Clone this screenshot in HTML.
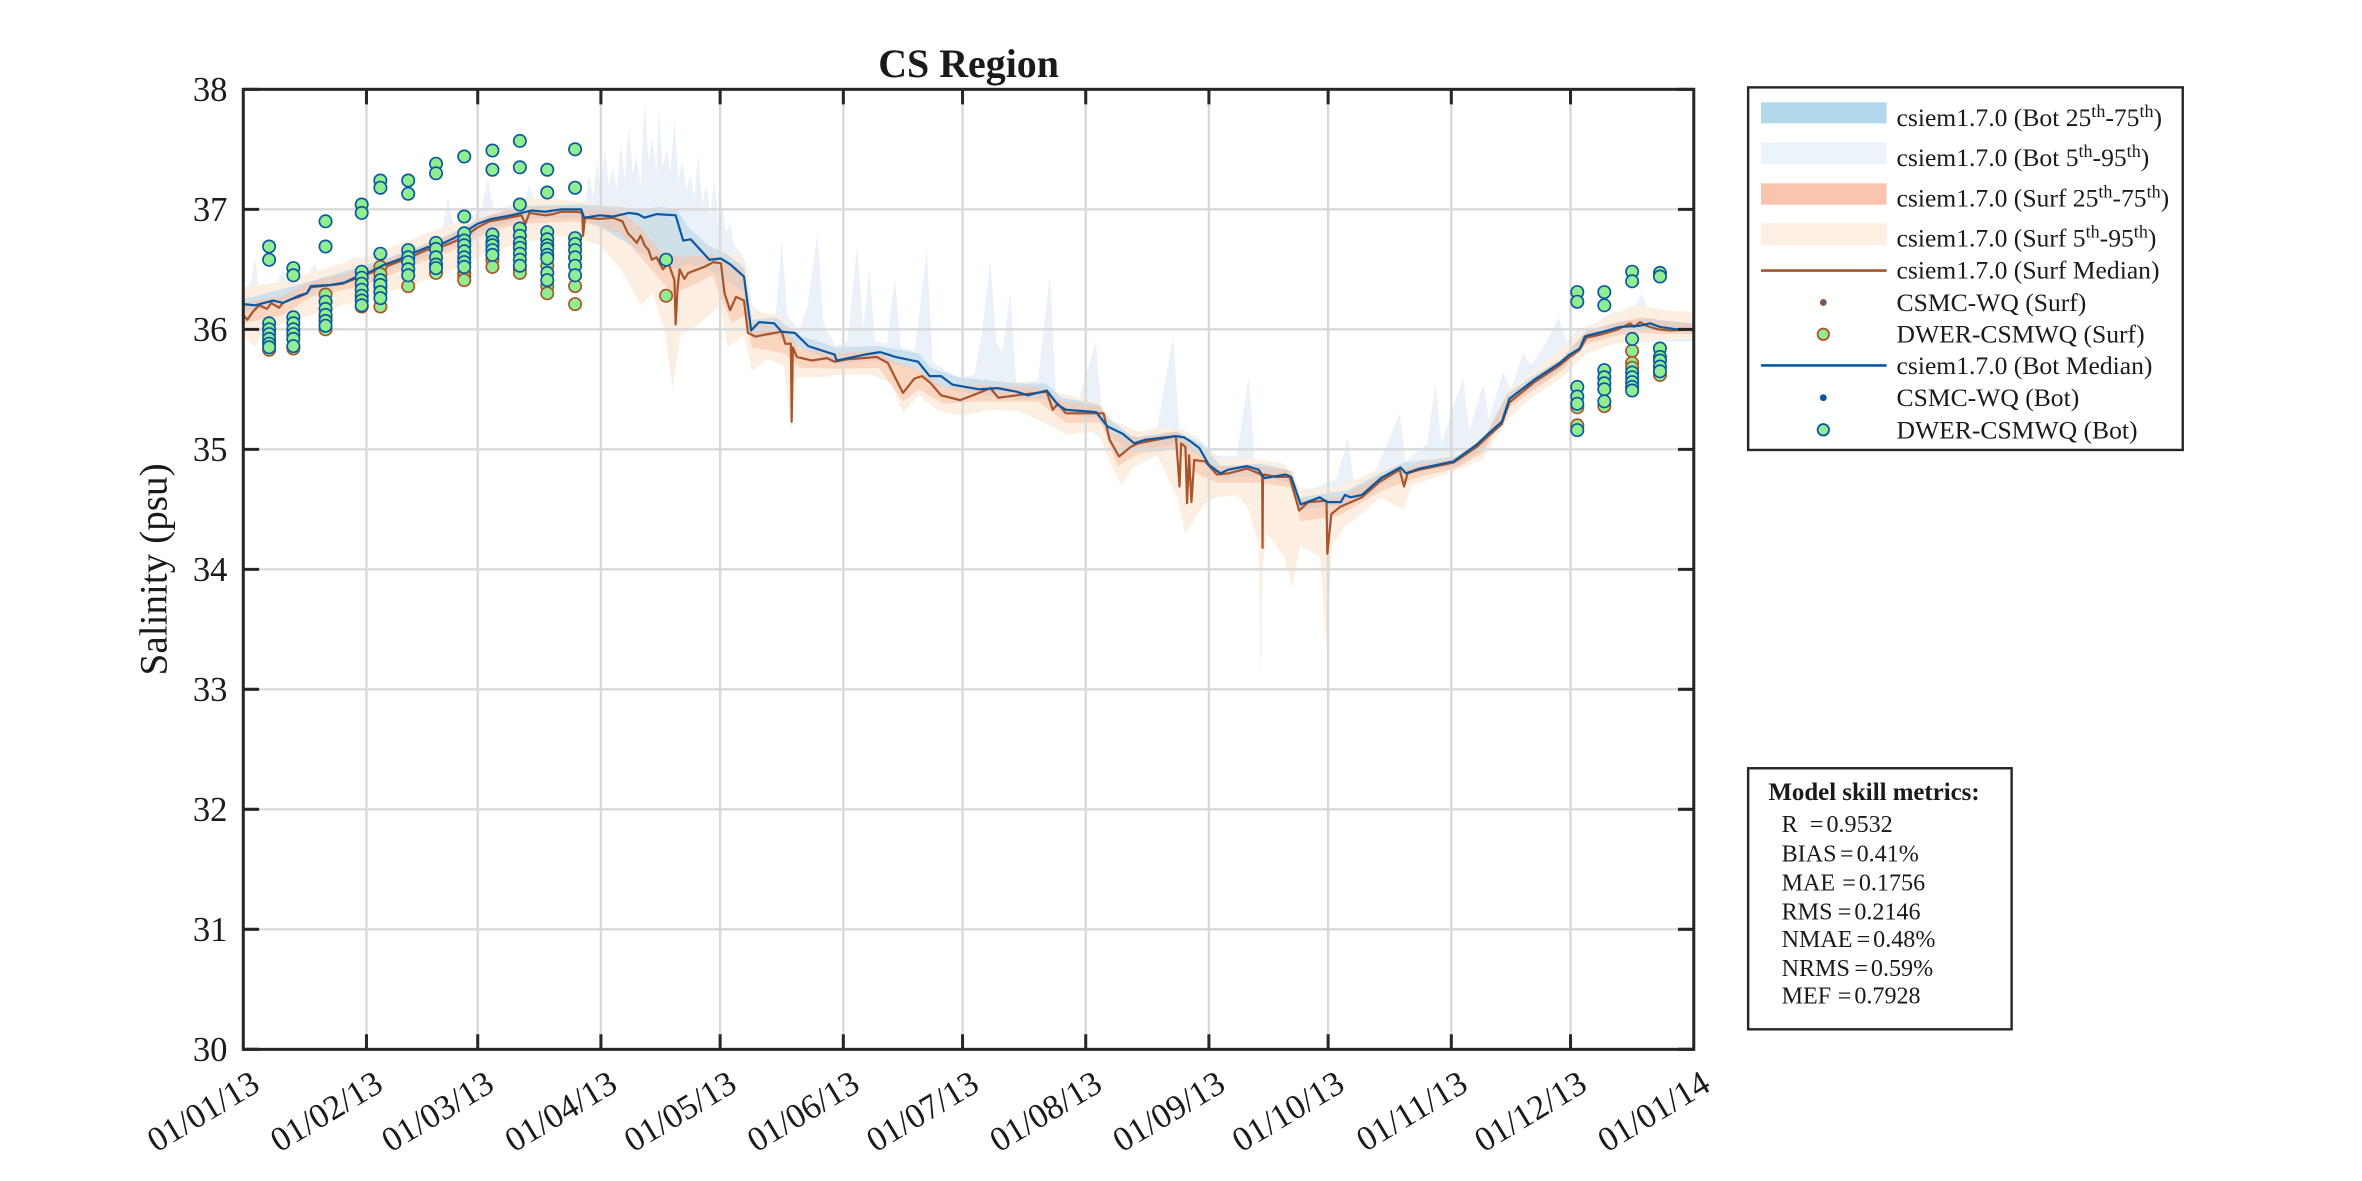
<!DOCTYPE html>
<html><head><meta charset="utf-8"><style>
html,body{margin:0;padding:0;background:#fff;}
body{width:2362px;height:1181px;overflow:hidden;}
svg{display:block;}
text{font-family:"Liberation Serif","Times New Roman",serif;fill:#1a1a1a;}
</style></head><body>
<svg width="2362" height="1181" viewBox="0 0 1568 784" xmlns="http://www.w3.org/2000/svg">
<defs>
<clipPath id="ax"><rect x="161.5" y="59.3" width="962.9" height="637.3"/></clipPath>
<ellipse id="mk" cx="0" cy="0" rx="1.55" ry="0.0515" fill="#90ee90" stroke-width="1.7" vector-effect="non-scaling-stroke"/>
</defs>
<rect x="0" y="0" width="1568" height="784" fill="#fff"/>

<g clip-path="url(#ax)">
<g transform="matrix(2.638 0 0 -79.66 161.5 3086.38)">
<!-- Bot 5-95 -->
<polygon fill="#eaf1f9" points="0,36.3 2,36.4 3,36.6 4,36.3 8,36.35 10,36.5 11,36.35 12,36.45 15,36.4 18,36.55 19,36.45 20,36.5 25,36.55 28,36.6 32,36.6 35,36.65 40,36.7 45,36.72 48,36.78 50,36.8 51.5,37.1 53,36.85 58,36.95 60,37.0 61.5,37.25 63,37.0 66,37.02 68,37.05 71,37.1 72,37.2 73.5,37.05 76,37.08 78,37.15 80,37.05 84,37.05 86,37.05 87,37.3 88,37.1 89,37.4 90,37.15 91,37.5 92,37.2 93,37.35 94,37.15 95,37.55 96,37.25 97,37.7 98,37.3 99,37.45 100,37.2 101,37.9 102,37.4 103,37.6 104,37.3 104.5,37.85 105.5,37.35 106.5,37.5 107.5,37.3 108.5,37.75 109.5,37.25 110.5,37.4 111.5,37.15 112.5,37.3 113.5,37.1 114.5,37.45 115.5,37.05 116.5,37.2 117.5,36.95 118.5,37.25 119.5,36.9 120.5,37.05 121.5,36.8 122.5,36.9 123.5,36.7 125,36.65 126.5,36.55 128,36.2 131,36.12 134,36.12 135.5,36.75 137,36.1 140,36.0 142,36.2 144.5,36.8 146,36.05 149,35.86 152,35.9 154.5,36.7 156,36.0 157.5,36.5 159,35.9 162,35.88 164,36.43 165.5,35.85 169,35.82 172,36.66 173.5,35.72 180,35.6 184,35.62 186,36.0 188,36.57 189.5,35.9 191,35.8 193,36.3 194.5,35.55 200,35.58 203,36.45 204.5,35.45 210,35.38 214.5,35.9 216,35.33 220,35.2 225,35.14 230,35.18 234,35.95 235.5,35.18 240,35.1 245,34.95 250,34.94 253,35.6 254.5,34.92 262,34.88 266,34.66 270,34.68 275,34.75 278,35.1 279.5,34.72 285,34.82 291,35.3 292.5,34.9 298,35.05 300,35.55 301.5,35.05 305,35.4 307,35.6 308.5,35.15 312,35.55 313.5,35.25 317,35.65 319,35.5 322,35.8 324,35.7 328,35.9 331,36.1 333,35.9 336,36 340,36.05 345,36.15 349,36.12 352,36.3 354,36.12 360,36.1 365,36.1 365,35.9 340,35.88 332,35.62 320,35.35 312,34.95 300,34.8 280,34.5 265,34.45 245,34.7 235,35 220,35 210,35.22 200,35.38 180,35.42 170,35.6 150,35.68 140,35.75 127,35.9 120,36.45 110,36.6 100,36.8 85,36.85 60,36.75 30,36.3 0,36.1"/>
<!-- Surf 5-95 -->
<polygon fill="#fcefe1" points="0,36.35 10,36.4 20,36.5 30,36.6 40,36.72 50,36.85 60,36.95 70,37.05 72,37.1 80,37.08 90,37.05 100,37 108,36.9 115,36.72 120,36.66 126,36.6 128,36.15 135,36.12 140,35.92 150,35.84 160,35.84 165,35.78 172,35.68 180,35.57 190,35.57 200,35.55 205,35.47 215,35.4 218,35.25 225,35.15 235,35.18 240,35.08 245,34.92 255,34.92 262,34.88 266,34.66 275,34.68 285,34.82 295,34.91 305,34.95 312,35.1 318,35.48 325,35.66 332,35.85 338,36.02 345,36.12 350,36.2 355,36.18 360,36.15 365,36.15 365,35.92 358,35.92 350,35.9 345,35.88 338,35.8 332,35.6 325,35.45 318,35.25 312,34.92 305,34.82 294,34.7 292,34.5 286,34.6 281,34.45 277,34.35 274,34.2 272.5,33.35 271,34.1 266,34.2 264,33.85 262,34.1 257.5,34.3 256.5,34 256,33.05 255.5,34.2 253,34.5 250,34.62 245,34.6 242,34.55 239,34.4 237,34.3 235,34.6 230,34.95 224,34.85 221,34.7 218,34.9 215,35.15 207,35.12 203,35.2 195,35.32 188,35.33 181,35.28 175,35.32 170,35.45 166,35.3 163,35.55 158,35.62 150,35.62 145,35.6 139,35.6 138,35.15 136,35.7 132,35.75 128,35.65 126,35.95 122,35.85 120,36.2 115,36.05 110,35.95 108,35.5 106,36 103,36.3 100,36.2 95,36.5 90,36.7 85,36.75 80,36.78 70,36.72 60,36.62 50,36.45 40,36.35 30,36.25 20,36.15 10,36.05 5,36 3,35.85 0,35.95"/>
<!-- Bot 25-75 -->
<polygon fill="#b7d7ec" fill-opacity="0.65" points="0,36.25 17,36.4 35,36.58 50,36.76 60,36.93 70,37.03 85,37.04 95,37.02 100,37 105,37.02 109,37 112,36.85 117,36.7 122,36.62 126,36.52 128,36.08 134,36.1 140,35.95 149,35.85 160,35.86 170,35.8 173,35.68 180,35.6 195,35.55 202,35.55 206,35.43 215,35.38 218,35.25 224,35.1 235,35.15 241,35.05 246,34.86 256,34.88 263,34.83 266,34.6 278,34.66 286,34.8 292,34.89 305,34.94 312,35.08 318,35.46 325,35.62 332,35.76 338,35.99 346,36.06 354,36.09 365,36.04 365,35.97 354,36 346,35.98 338,35.9 332,35.68 325,35.52 318,35.36 312,35 305,34.86 292,34.8 286,34.7 278,34.54 266,34.5 263,34.72 256,34.78 246,34.76 241,34.95 235,35.05 224,34.98 218,35.1 215,35.26 206,35.3 202,35.42 195,35.42 180,35.48 173,35.55 170,35.66 160,35.74 149,35.72 140,35.85 134,35.95 128,35.92 126,36.3 122,36.4 117,36.5 112,36.55 109,36.5 105,36.55 100,36.65 95,36.75 90,36.85 85,36.93 70,36.92 60,36.82 50,36.65 35,36.48 17,36.3 0,36.15"/>
<!-- Surf 25-75 -->
<polygon fill="#f9c3aa" fill-opacity="0.6" points="0,36.22 10,36.28 17,36.4 30,36.5 42,36.66 56,36.84 62,36.95 70,37.02 85,37.02 95,36.98 100,36.85 105,36.65 110,36.6 118,36.62 121,36.58 126,36.5 127.5,36.05 136,36.02 140,35.84 150,35.8 160,35.82 163,35.74 170,35.66 176,35.52 185,35.53 200,35.52 206,35.4 216,35.36 218,35.14 226,35.1 235,35.15 240,34.98 245,34.86 256,34.86 264,34.82 266,34.58 276,34.6 286,34.78 296,34.87 305,34.93 312,35.06 318,35.44 325,35.6 332,35.76 338,35.98 346,36.06 352,36.1 358,36.07 365,36.05 365,35.96 358,35.96 352,35.97 346,35.95 338,35.88 332,35.66 325,35.5 318,35.33 312,34.97 305,34.84 296,34.77 286,34.65 276,34.45 266,34.4 264,34.68 256,34.72 245,34.72 240,34.8 235,35 226,34.97 220,34.86 216,35.22 207,35.22 200,35.4 185,35.4 176,35.38 170,35.5 166,35.4 160,35.68 150,35.67 140,35.68 136,35.8 128,35.85 126,36.12 123,36.05 121,36.2 118,36.45 112,36.35 108,36.3 104,36.45 100,36.6 95,36.8 85,36.9 70,36.88 62,36.82 56,36.7 42,36.52 30,36.36 17,36.27 10,36.12 0,36.05"/>
</g>
</g>

<!-- gridlines -->
<g stroke="#d9d9d9" stroke-width="1.6">
<line x1="243.28" y1="59.3" x2="243.28" y2="696.6"/>
<line x1="317.14" y1="59.3" x2="317.14" y2="696.6"/>
<line x1="398.92" y1="59.3" x2="398.92" y2="696.6"/>
<line x1="478.06" y1="59.3" x2="478.06" y2="696.6"/>
<line x1="559.84" y1="59.3" x2="559.84" y2="696.6"/>
<line x1="638.98" y1="59.3" x2="638.98" y2="696.6"/>
<line x1="720.76" y1="59.3" x2="720.76" y2="696.6"/>
<line x1="802.53" y1="59.3" x2="802.53" y2="696.6"/>
<line x1="881.67" y1="59.3" x2="881.67" y2="696.6"/>
<line x1="963.45" y1="59.3" x2="963.45" y2="696.6"/>
<line x1="1042.59" y1="59.3" x2="1042.59" y2="696.6"/>
<line x1="161.5" y1="138.96" x2="1124.4" y2="138.96"/>
<line x1="161.5" y1="218.62" x2="1124.4" y2="218.62"/>
<line x1="161.5" y1="298.28" x2="1124.4" y2="298.28"/>
<line x1="161.5" y1="377.94" x2="1124.4" y2="377.94"/>
<line x1="161.5" y1="457.6" x2="1124.4" y2="457.6"/>
<line x1="161.5" y1="537.26" x2="1124.4" y2="537.26"/>
<line x1="161.5" y1="616.92" x2="1124.4" y2="616.92"/>
</g>

<g clip-path="url(#ax)">
<g transform="matrix(2.638 0 0 -79.66 161.5 3086.38)">
<!-- Surf median -->
<polyline fill="none" stroke="#a8552a" stroke-width="2.2" vector-effect="non-scaling-stroke" stroke-linejoin="round" points="0,36.12 1,36.08 2.5,36.15 4,36.2 6,36.17 7,36.22 9,36.18 10,36.22 12,36.25 14,36.27 16,36.3 17,36.35 25,36.38 28,36.42 32,36.47 35.6,36.52 42,36.6 46,36.66 50,36.69 53,36.73 56,36.78 59,36.85 62,36.9 67,36.93 70,36.95 71,36.88 72,36.97 76,36.95 78,36.96 80,36.98 84,36.98 85.3,36.97 85.5,36.78 86,36.93 89.7,36.92 93,36.93 95.4,36.9 96.8,36.8 98,36.76 99,36.72 100,36.78 101,36.7 102,36.66 102.8,36.58 104,36.6 105.6,36.5 107,36.55 108.5,36.41 108.8,36.04 109.3,36.35 109.8,36.5 111,36.42 112,36.47 113.6,36.49 116,36.52 118.3,36.56 120.2,36.55 121.1,36.3 122.5,36.16 124,36.27 126,36.24 127,35.97 128.9,35.94 132,35.96 135.5,35.98 136.4,35.88 137.8,35.88 138,35.23 138.3,35.85 139.3,35.77 143.1,35.74 146.9,35.76 148.8,35.73 152,35.75 156,35.76 159.4,35.77 162.2,35.72 164,35.6 166,35.47 168.9,35.59 170.8,35.61 173,35.55 175.6,35.45 180.4,35.41 185.1,35.47 188,35.51 190,35.43 194.6,35.45 199.4,35.47 202.2,35.48 203.7,35.33 205,35.38 207,35.3 212.7,35.3 216.5,35.3 218,35.08 220.4,34.94 223.3,35.02 225.2,35.05 230,35.08 234.7,35.11 235.6,34.69 236,35.05 237.1,35.02 237.5,34.55 238,34.95 238.6,34.56 239.3,34.91 242,34.9 245,34.79 248,34.8 252.6,34.84 255.5,34.8 256.4,34.78 256.5,34.18 256.6,34.78 257,34.79 260,34.77 263.3,34.77 265.7,34.49 268,34.56 271.9,34.57 272.6,34.57 272.8,34.13 273.8,34.46 276,34.52 281.5,34.6 286,34.73 291,34.83 292.1,34.69 293,34.8 296,34.83 304.6,34.89 310.4,35.02 313.3,35.11 316.7,35.21 318.6,35.39 324.9,35.56 331.3,35.7 333.8,35.77 336.3,35.83 338,35.93 342,35.96 346,36 349,36.05 350,36.02 351.5,36.06 353,36.03 356,36 359,35.99 365,36"/>
<!-- Surf obs -->
<g stroke="#a8552a">
<use href="#mk" x="6.5" y="35.83"/><use href="#mk" x="6.5" y="35.9"/><use href="#mk" x="6.5" y="36"/>
<use href="#mk" x="12.6" y="35.84"/>
<use href="#mk" x="20.7" y="36.29"/><use href="#mk" x="20.7" y="36"/><use href="#mk" x="20.7" y="36.1"/>
<use href="#mk" x="29.8" y="36.19"/>
<use href="#mk" x="34.5" y="36.52"/><use href="#mk" x="34.5" y="36.46"/><use href="#mk" x="34.5" y="36.19"/><use href="#mk" x="34.5" y="36.35"/>
<use href="#mk" x="41.5" y="36.36"/>
<use href="#mk" x="48.5" y="36.47"/>
<use href="#mk" x="55.6" y="36.47"/><use href="#mk" x="55.6" y="36.44"/><use href="#mk" x="55.6" y="36.41"/>
<use href="#mk" x="62.7" y="36.58"/><use href="#mk" x="62.7" y="36.52"/>
<use href="#mk" x="69.6" y="36.5"/><use href="#mk" x="69.6" y="36.47"/>
<use href="#mk" x="76.5" y="36.53"/><use href="#mk" x="76.5" y="36.36"/><use href="#mk" x="76.5" y="36.3"/>
<use href="#mk" x="83.5" y="36.36"/><use href="#mk" x="83.5" y="36.21"/>
<use href="#mk" x="106.4" y="36.28"/>
<use href="#mk" x="335.7" y="35.35"/><use href="#mk" x="335.7" y="35.2"/>
<use href="#mk" x="342.5" y="35.36"/>
<use href="#mk" x="349.5" y="35.82"/><use href="#mk" x="349.5" y="35.72"/><use href="#mk" x="349.5" y="35.68"/>
<use href="#mk" x="356.5" y="35.62"/>
</g>
<!-- Bot median -->
<polyline fill="none" stroke="#0b58a2" stroke-width="2.2" vector-effect="non-scaling-stroke" stroke-linejoin="round" points="0,36.21 3,36.2 7.5,36.24 10,36.22 14,36.28 16,36.3 17,36.36 22,36.37 25.5,36.39 28,36.43 32,36.48 35.6,36.54 39,36.58 42.3,36.63 46,36.68 49.8,36.71 53,36.76 55.7,36.81 59,36.88 62.4,36.92 67.4,36.95 72.5,36.99 76,36.98 80,37 85,37 85.8,36.93 89.7,36.95 93,36.94 97,36.97 99.3,36.96 101,36.93 104,36.96 108.8,36.95 110.7,36.74 112.6,36.75 117.3,36.58 120.2,36.59 122.6,36.54 126,36.44 127.8,35.99 129.8,36.06 133.6,36.05 135.5,35.98 138.8,35.97 142.2,35.86 148.8,35.79 149.3,35.74 156.5,35.79 160.3,35.81 164.1,35.77 169.8,35.73 172.7,35.61 175.6,35.61 178.4,35.54 185.1,35.5 189.8,35.51 194.6,35.48 197.4,35.45 202.2,35.49 205,35.37 207,35.33 214.6,35.31 217.5,35.19 221.3,35.13 224.2,35.05 227,35.08 234.7,35.11 236.7,35.1 238.2,35.07 240.6,35.01 243,34.87 245.9,34.8 247.8,34.83 252.6,34.86 255.5,34.83 257,34.76 262.3,34.79 263.7,34.77 266.1,34.54 270.9,34.6 272.8,34.56 276.2,34.56 277.2,34.62 278.6,34.6 281.5,34.62 286.3,34.76 291.2,34.85 292.6,34.8 296,34.84 304.6,34.9 310.4,35.04 313.3,35.13 316.7,35.23 318.6,35.42 324.9,35.58 331.3,35.72 333.8,35.79 336.3,35.84 337.6,35.94 338.5,35.95 342.2,35.98 346.4,36.02 351.5,36.03 354,36.05 356.5,36.02 360.7,36 365,36"/>
<!-- Bot obs -->
<g stroke="#0b58a2">
<use href="#mk" x="6.5" y="36.69"/><use href="#mk" x="6.5" y="36.58"/><use href="#mk" x="6.5" y="36.05"/><use href="#mk" x="6.5" y="36"/><use href="#mk" x="6.5" y="35.96"/><use href="#mk" x="6.5" y="35.92"/><use href="#mk" x="6.5" y="35.88"/><use href="#mk" x="6.5" y="35.85"/>
<use href="#mk" x="12.6" y="36.51"/><use href="#mk" x="12.6" y="36.45"/><use href="#mk" x="12.6" y="36.1"/><use href="#mk" x="12.6" y="36.05"/><use href="#mk" x="12.6" y="36"/><use href="#mk" x="12.6" y="35.96"/><use href="#mk" x="12.6" y="35.92"/><use href="#mk" x="12.6" y="35.86"/>
<use href="#mk" x="20.7" y="36.9"/><use href="#mk" x="20.7" y="36.69"/><use href="#mk" x="20.7" y="36.23"/><use href="#mk" x="20.7" y="36.17"/><use href="#mk" x="20.7" y="36.12"/><use href="#mk" x="20.7" y="36.07"/><use href="#mk" x="20.7" y="36.03"/>
<use href="#mk" x="29.8" y="37.04"/><use href="#mk" x="29.8" y="36.97"/><use href="#mk" x="29.8" y="36.48"/><use href="#mk" x="29.8" y="36.43"/><use href="#mk" x="29.8" y="36.38"/><use href="#mk" x="29.8" y="36.33"/><use href="#mk" x="29.8" y="36.28"/><use href="#mk" x="29.8" y="36.24"/><use href="#mk" x="29.8" y="36.2"/>
<use href="#mk" x="34.5" y="37.24"/><use href="#mk" x="34.5" y="37.18"/><use href="#mk" x="34.5" y="36.63"/><use href="#mk" x="34.5" y="36.41"/><use href="#mk" x="34.5" y="36.37"/><use href="#mk" x="34.5" y="36.31"/><use href="#mk" x="34.5" y="36.26"/>
<use href="#mk" x="41.5" y="37.24"/><use href="#mk" x="41.5" y="37.13"/><use href="#mk" x="41.5" y="36.66"/><use href="#mk" x="41.5" y="36.6"/><use href="#mk" x="41.5" y="36.56"/><use href="#mk" x="41.5" y="36.5"/><use href="#mk" x="41.5" y="36.45"/>
<use href="#mk" x="48.5" y="37.38"/><use href="#mk" x="48.5" y="37.3"/><use href="#mk" x="48.5" y="36.72"/><use href="#mk" x="48.5" y="36.67"/><use href="#mk" x="48.5" y="36.6"/><use href="#mk" x="48.5" y="36.54"/><use href="#mk" x="48.5" y="36.51"/>
<use href="#mk" x="55.6" y="37.44"/><use href="#mk" x="55.6" y="36.94"/><use href="#mk" x="55.6" y="36.8"/><use href="#mk" x="55.6" y="36.74"/><use href="#mk" x="55.6" y="36.7"/><use href="#mk" x="55.6" y="36.65"/><use href="#mk" x="55.6" y="36.6"/><use href="#mk" x="55.6" y="36.56"/><use href="#mk" x="55.6" y="36.52"/>
<use href="#mk" x="62.7" y="37.49"/><use href="#mk" x="62.7" y="37.33"/><use href="#mk" x="62.7" y="36.79"/><use href="#mk" x="62.7" y="36.73"/><use href="#mk" x="62.7" y="36.7"/><use href="#mk" x="62.7" y="36.66"/><use href="#mk" x="62.7" y="36.62"/>
<use href="#mk" x="69.6" y="37.57"/><use href="#mk" x="69.6" y="37.35"/><use href="#mk" x="69.6" y="37.04"/><use href="#mk" x="69.6" y="36.84"/><use href="#mk" x="69.6" y="36.78"/><use href="#mk" x="69.6" y="36.72"/><use href="#mk" x="69.6" y="36.68"/><use href="#mk" x="69.6" y="36.63"/><use href="#mk" x="69.6" y="36.58"/><use href="#mk" x="69.6" y="36.53"/>
<use href="#mk" x="76.5" y="37.33"/><use href="#mk" x="76.5" y="37.14"/><use href="#mk" x="76.5" y="36.81"/><use href="#mk" x="76.5" y="36.75"/><use href="#mk" x="76.5" y="36.7"/><use href="#mk" x="76.5" y="36.67"/><use href="#mk" x="76.5" y="36.62"/><use href="#mk" x="76.5" y="36.59"/><use href="#mk" x="76.5" y="36.47"/><use href="#mk" x="76.5" y="36.41"/>
<use href="#mk" x="83.5" y="37.5"/><use href="#mk" x="83.5" y="37.18"/><use href="#mk" x="83.5" y="36.76"/><use href="#mk" x="83.5" y="36.71"/><use href="#mk" x="83.5" y="36.66"/><use href="#mk" x="83.5" y="36.6"/><use href="#mk" x="83.5" y="36.53"/><use href="#mk" x="83.5" y="36.45"/>
<use href="#mk" x="106.4" y="36.58"/>
<use href="#mk" x="335.7" y="36.31"/><use href="#mk" x="335.7" y="36.23"/><use href="#mk" x="335.7" y="35.52"/><use href="#mk" x="335.7" y="35.44"/><use href="#mk" x="335.7" y="35.38"/><use href="#mk" x="335.7" y="35.16"/>
<use href="#mk" x="342.5" y="36.31"/><use href="#mk" x="342.5" y="36.2"/><use href="#mk" x="342.5" y="35.66"/><use href="#mk" x="342.5" y="35.6"/><use href="#mk" x="342.5" y="35.55"/><use href="#mk" x="342.5" y="35.5"/><use href="#mk" x="342.5" y="35.4"/>
<use href="#mk" x="349.5" y="36.48"/><use href="#mk" x="349.5" y="36.4"/><use href="#mk" x="349.5" y="35.92"/><use href="#mk" x="349.5" y="35.64"/><use href="#mk" x="349.5" y="35.6"/><use href="#mk" x="349.5" y="35.56"/><use href="#mk" x="349.5" y="35.52"/><use href="#mk" x="349.5" y="35.49"/>
<use href="#mk" x="356.5" y="36.47"/><use href="#mk" x="356.5" y="36.44"/><use href="#mk" x="356.5" y="35.84"/><use href="#mk" x="356.5" y="35.77"/><use href="#mk" x="356.5" y="35.74"/><use href="#mk" x="356.5" y="35.69"/><use href="#mk" x="356.5" y="35.65"/>
</g>
</g>
</g>

<!-- axes box and ticks -->
<g stroke="#262626" stroke-width="2" fill="none">
<rect x="161.5" y="59.3" width="962.9" height="637.3"/>
<path d="M161.5 59.3h10.5M161.5 138.96h10.5M161.5 218.62h10.5M161.5 298.28h10.5M161.5 377.94h10.5M161.5 457.6h10.5M161.5 537.26h10.5M161.5 616.92h10.5M161.5 696.58h10.5
M1124.4 59.3h-10.5M1124.4 138.96h-10.5M1124.4 218.62h-10.5M1124.4 298.28h-10.5M1124.4 377.94h-10.5M1124.4 457.6h-10.5M1124.4 537.26h-10.5M1124.4 616.92h-10.5M1124.4 696.58h-10.5
M243.28 59.3v10M317.14 59.3v10M398.92 59.3v10M478.06 59.3v10M559.84 59.3v10M638.98 59.3v10M720.76 59.3v10M802.53 59.3v10M881.67 59.3v10M963.45 59.3v10M1042.59 59.3v10
M243.28 696.6v-10M317.14 696.6v-10M398.92 696.6v-10M478.06 696.6v-10M559.84 696.6v-10M638.98 696.6v-10M720.76 696.6v-10M802.53 696.6v-10M881.67 696.6v-10M963.45 696.6v-10M1042.59 696.6v-10"/>
</g>

<!-- y tick labels -->
<g font-size="23" text-anchor="end">
<text x="151" y="67.1">38</text>
<text x="151" y="146.8">37</text>
<text x="151" y="226.4">36</text>
<text x="151" y="306.1">35</text>
<text x="151" y="385.7">34</text>
<text x="151" y="465.4">33</text>
<text x="151" y="545.1">32</text>
<text x="151" y="624.7">31</text>
<text x="151" y="704.4">30</text>
</g>

<!-- x tick labels -->
<g font-size="23" text-anchor="end" dominant-baseline="central">
<text transform="translate(170,717) rotate(-31)">01/01/13</text>
<text transform="translate(251.8,717) rotate(-31)">01/02/13</text>
<text transform="translate(325.6,717) rotate(-31)">01/03/13</text>
<text transform="translate(407.4,717) rotate(-31)">01/04/13</text>
<text transform="translate(486.6,717) rotate(-31)">01/05/13</text>
<text transform="translate(568.3,717) rotate(-31)">01/06/13</text>
<text transform="translate(647.5,717) rotate(-31)">01/07/13</text>
<text transform="translate(729.3,717) rotate(-31)">01/08/13</text>
<text transform="translate(811,717) rotate(-31)">01/09/13</text>
<text transform="translate(890.2,717) rotate(-31)">01/10/13</text>
<text transform="translate(972,717) rotate(-31)">01/11/13</text>
<text transform="translate(1051.1,717) rotate(-31)">01/12/13</text>
<text transform="translate(1132.9,717) rotate(-31)">01/01/14</text>
</g>

<text x="643" y="51" text-anchor="middle" font-size="26.5" font-weight="bold" fill="#000">CS Region</text>
<text transform="translate(110.5,378) rotate(-90)" text-anchor="middle" font-size="26">Salinity (psu)</text>

<!-- legend -->
<rect x="1160.5" y="58" width="288.5" height="240.7" fill="#fff" stroke="#262626" stroke-width="1.6"/>
<rect x="1169" y="67.9" width="83.4" height="14" fill="#b2d6ea"/>
<rect x="1169" y="94.5" width="83.4" height="14.6" fill="#edf3fa"/>
<rect x="1169" y="121.7" width="83.4" height="14.2" fill="#fac4ae"/>
<rect x="1169" y="148.3" width="83.4" height="14.6" fill="#fdf0e3"/>
<line x1="1169" y1="179.6" x2="1252.4" y2="179.6" stroke="#a8552a" stroke-width="1.8"/>
<circle cx="1210.4" cy="200.8" r="1.8" fill="#3c5f9c" stroke="#a8552a" stroke-width="1"/>
<circle cx="1210.4" cy="221.9" r="3.8" fill="#90ee90" stroke="#a8552a" stroke-width="1.2"/>
<line x1="1169" y1="242.6" x2="1252.4" y2="242.6" stroke="#0b58a2" stroke-width="1.8"/>
<circle cx="1210.4" cy="264" r="1.8" fill="#0b58a2" stroke="#0b58a2" stroke-width="1"/>
<circle cx="1210.4" cy="285.3" r="3.8" fill="#90ee90" stroke="#0b58a2" stroke-width="1.2"/>
<g font-size="17">
<text x="1259" y="83.6">csiem1.7.0 (Bot 25<tspan dy="-6" font-size="12">th</tspan><tspan dy="6">-75</tspan><tspan dy="-6" font-size="12">th</tspan><tspan dy="6">)</tspan></text>
<text x="1259" y="110.2">csiem1.7.0 (Bot 5<tspan dy="-6" font-size="12">th</tspan><tspan dy="6">-95</tspan><tspan dy="-6" font-size="12">th</tspan><tspan dy="6">)</tspan></text>
<text x="1259" y="137.2">csiem1.7.0 (Surf 25<tspan dy="-6" font-size="12">th</tspan><tspan dy="6">-75</tspan><tspan dy="-6" font-size="12">th</tspan><tspan dy="6">)</tspan></text>
<text x="1259" y="163.7">csiem1.7.0 (Surf 5<tspan dy="-6" font-size="12">th</tspan><tspan dy="6">-95</tspan><tspan dy="-6" font-size="12">th</tspan><tspan dy="6">)</tspan></text>
<text x="1259" y="185">csiem1.7.0 (Surf Median)</text>
<text x="1259" y="206.3">CSMC-WQ (Surf)</text>
<text x="1259" y="227.5">DWER-CSMWQ (Surf)</text>
<text x="1259" y="248.3">csiem1.7.0 (Bot Median)</text>
<text x="1259" y="269.5">CSMC-WQ (Bot)</text>
<text x="1259" y="291">DWER-CSMWQ (Bot)</text>
</g>

<!-- metrics box -->
<rect x="1160.5" y="510" width="174.9" height="173.3" fill="#fff" stroke="#262626" stroke-width="1.6"/>
<text x="1174" y="531" font-size="16.5" font-weight="bold" fill="#000">Model skill metrics:</text>
<g font-size="16">
<text x="1182.7" y="552.3">R</text><text x="1201.5" y="552.3">=</text><text x="1212.5" y="552.3">0.9532</text>
<text x="1182.7" y="572">BIAS</text><text x="1221.5" y="572">=</text><text x="1232.5" y="572">0.41%</text>
<text x="1182.7" y="591">MAE</text><text x="1223" y="591">=</text><text x="1234" y="591">0.1756</text>
<text x="1182.7" y="610.3">RMS</text><text x="1220" y="610.3">=</text><text x="1231" y="610.3">0.2146</text>
<text x="1182.7" y="628.6">NMAE</text><text x="1232.5" y="628.6">=</text><text x="1243.5" y="628.6">0.48%</text>
<text x="1182.7" y="647.8">NRMS</text><text x="1231" y="647.8">=</text><text x="1242" y="647.8">0.59%</text>
<text x="1182.7" y="666.2">MEF</text><text x="1220" y="666.2">=</text><text x="1231" y="666.2">0.7928</text>
</g>
</svg>
</body></html>
